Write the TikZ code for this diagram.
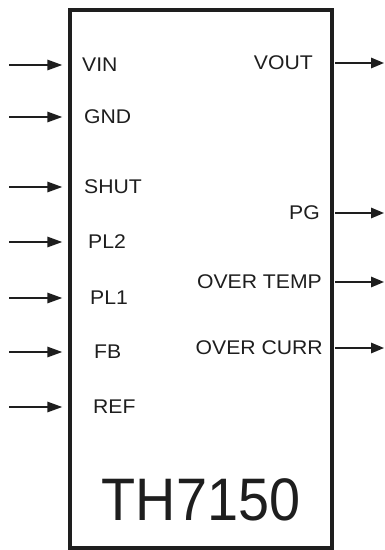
\documentclass[tikz,border=0pt]{standalone}
\usepackage{fontspec}
\setmainfont{Liberation Sans}
\newfontfamily\lblfont[FakeStretch=1.07]{Liberation Sans}
\newfontfamily\titlefont[FakeStretch=0.93]{Liberation Sans}
\usetikzlibrary{arrows.meta}
\definecolor{ink}{HTML}{1E1E1E}
\tikzset{
  pinlabel/.style={font=\lblfont\fontsize{19.8}{21}\selectfont, text=ink, inner sep=0pt},
  inarrow/.style={draw=ink, line width=1.6pt, -{Triangle[length=15pt,width=10.5pt]}, shorten >=6pt},
  outarrow/.style={draw=ink, line width=1.6pt, -{Triangle[length=13pt,width=10.5pt]}},
}
\begin{document}
\begin{tikzpicture}[x=1pt,y=-1pt]
\useasboundingbox (0,0) rectangle (385,550);
\node[draw=ink, line width=3.5pt, inner sep=0pt, minimum width=262pt, minimum height=538pt] (chip) at (201,279) {};
\node[font=\titlefont\fontsize{60}{62}\selectfont, text=ink, inner sep=0pt] (title) at (201,500) {TH7150};
% inputs
\foreach \name/\y/\x in {VIN/65/82, GND/117/84, SHUT/187/84, PL2/242/88, PL1/298/90, FB/352/94, REF/407/93} {
  \coordinate (s\name) at (9,\y);
  \node[pinlabel, anchor=west] (l\name) at (\x,\y) {\name};
  \draw[inarrow] (s\name) -- (s\name -| chip.west);
}
% outputs
\foreach \id/\txt/\y/\x in {VOUT/VOUT/63/313, PG/PG/213/320, OT/OVER TEMP/282/322, OC/OVER CURR/348/323} {
  \coordinate (e\id) at (384,\y);
  \node[pinlabel, anchor=east] (l\id) at (\x,\y) {\txt};
  \draw[outarrow] (e\id -| chip.east) ++(1.5,0) coordinate (b\id) -- (e\id);
}
\end{tikzpicture}
\end{document}
